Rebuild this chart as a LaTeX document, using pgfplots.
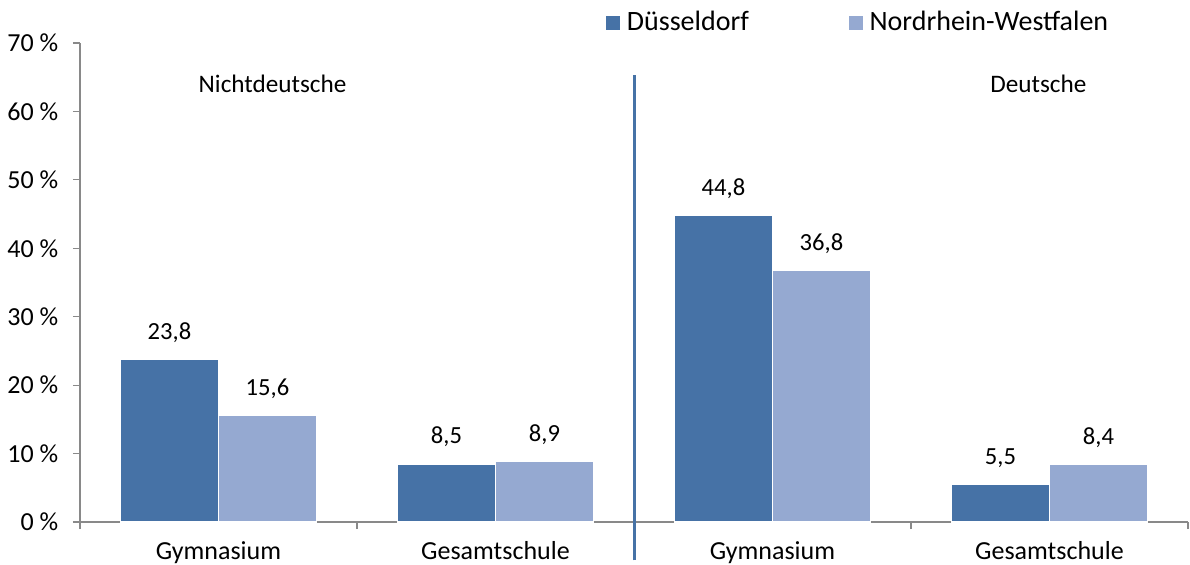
\documentclass[border=0pt]{standalone}
\usepackage{pgfplots}
\pgfplotsset{compat=1.18}
\usepackage{fontspec}
\setmainfont{Carlito}
\definecolor{dblue}{HTML}{4672A6}
\definecolor{lblue}{HTML}{95A9D1}
\definecolor{axgray}{HTML}{898989}
\begin{document}
\fontsize{12.6pt}{15pt}\selectfont
\begin{tikzpicture}
\begin{axis}[
  scale only axis, width=554pt, height=239.5pt,
  xmin=-0.5, xmax=3.5, ymin=0, ymax=70,
  axis lines=left, axis line style={-, axgray, line width=0.6pt},
  clip=false,
  xtick={-0.5,0.5,1.5,2.5,3.5}, x tick label as interval,
  xticklabels={Gymnasium,Gesamtschule,Gymnasium,Gesamtschule},
  ytick={0,10,...,70},
  yticklabel={\pgfmathprintnumber[assume math mode=true]{\tick}~\%},
  tick align=outside, major tick length=3.5pt,
  tick style={axgray, line width=0.6pt},
  tick label style={font=\fontsize{13pt}{15pt}\selectfont, text=black},
  xticklabel style={yshift=-2pt},
  yticklabel style={xshift=-3pt},
  legend style={at={(0.4745,1)}, anchor=west, yshift=10pt, draw=none, fill=none,
    inner sep=0pt, legend columns=2, font=\fontsize{14pt}{16pt}\selectfont,
    /tikz/every even column/.append style={column sep=48pt}},
  legend image code/.code={\fill[#1,draw=none] (0pt,-3.5pt) rectangle (7pt,3.5pt); \path (8pt,0pt);},
]
\addplot[ybar, bar width=49pt, bar shift=-24.5pt, fill=dblue, draw=white, line width=0.75pt,
  nodes near coords={\pgfmathprintnumber[fixed, fixed zerofill, precision=1, use comma, assume math mode=true]{\pgfplotspointmeta}},
  every node near coord/.append style={anchor=south, inner sep=0pt, yshift=8pt, xshift=-24.5pt, text=black, font=\fontsize{12.3pt}{14pt}\selectfont}]
  coordinates {(0,23.8) (1,8.5) (2,44.8) (3,5.5)};
\addlegendentry{Düsseldorf}
\addplot[ybar, bar width=49pt, bar shift=24.5pt, fill=lblue, draw=white, line width=0.75pt,
  nodes near coords={\pgfmathprintnumber[fixed, fixed zerofill, precision=1, use comma, assume math mode=true]{\pgfplotspointmeta}},
  every node near coord/.append style={anchor=south, inner sep=0pt, yshift=8pt, xshift=24.5pt, text=black, font=\fontsize{12.3pt}{14pt}\selectfont}]
  coordinates {(0,15.6) (1,8.9) (2,36.8) (3,8.4)};
\addlegendentry{Nordrhein-Westfalen}
\addplot[dblue, line width=1.5pt, forget plot, mark=none] coordinates {(1.5,-5.6) (1.5,65.3)};
\node at (axis cs:0.195,64) {Nichtdeutsche};
\node at (axis cs:2.96,64) {Deutsche};
\end{axis}
\pgfresetboundingbox
\path (-40pt,-21pt) rectangle (555pt,261pt);
\end{tikzpicture}
\end{document}
